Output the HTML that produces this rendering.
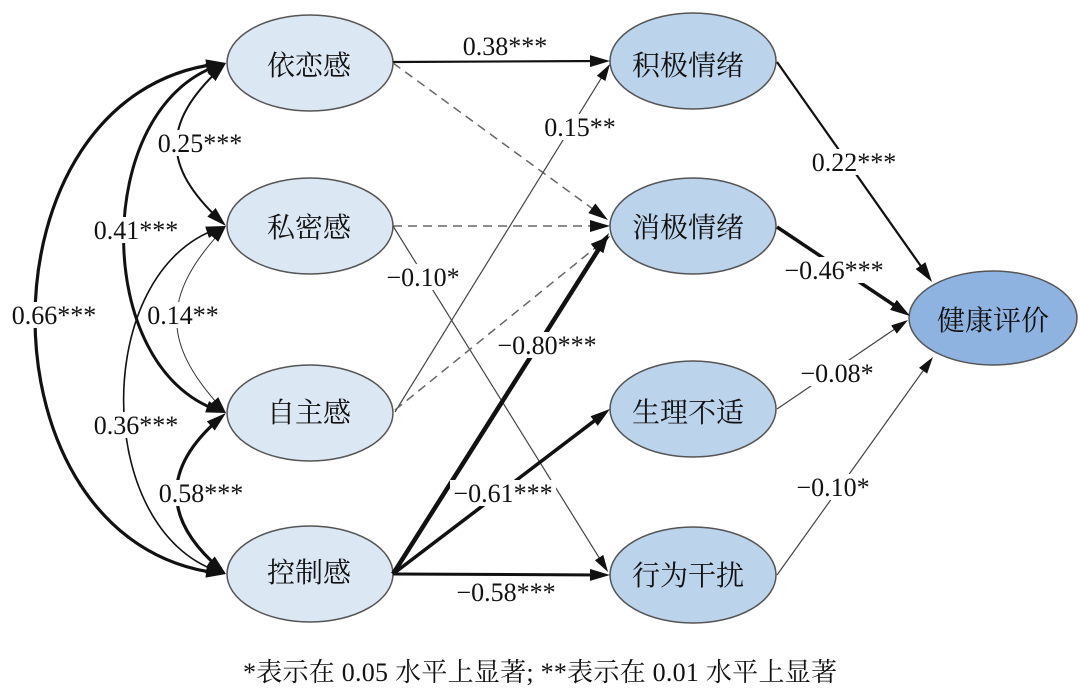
<!DOCTYPE html>
<html><head><meta charset="utf-8"><style>
html,body{margin:0;padding:0;background:#fff;}
svg{display:block;}
.lb{font-family:"Liberation Serif","Noto Serif CJK SC",serif;font-size:26px;fill:#111;text-anchor:middle;}
.nd{font-family:"Liberation Serif","Noto Serif CJK SC",serif;font-size:28px;fill:#111;text-anchor:middle;}
</style></head><body>
<svg width="1080" height="690" viewBox="0 0 1080 690" xmlns="http://www.w3.org/2000/svg">
<defs>
<marker id="ab" viewBox="0 0 20 12" refX="12" refY="6" markerWidth="20" markerHeight="12" markerUnits="userSpaceOnUse" orient="auto-start-reverse"><path d="M0,0 L20,6 L0,12 z" fill="#111"/></marker>
<marker id="as" viewBox="0 0 17 10" refX="9" refY="5" markerWidth="17" markerHeight="10" markerUnits="userSpaceOnUse" orient="auto-start-reverse"><path d="M0,0 L17,5 L0,10 z" fill="#111"/></marker>
</defs>
<rect width="1080" height="690" fill="#fff"/>

<!-- nodes -->
<g stroke="#555" stroke-width="1.5">
<ellipse cx="310" cy="63" rx="83" ry="48" fill="#dce7f4"/>
<ellipse cx="310" cy="226" rx="83" ry="48" fill="#dce7f4"/>
<ellipse cx="310" cy="413" rx="83" ry="48" fill="#dce7f4"/>
<ellipse cx="310" cy="574" rx="83" ry="48" fill="#dce7f4"/>
<ellipse cx="693" cy="61" rx="83" ry="48" fill="#bcd3ec"/>
<ellipse cx="693" cy="226" rx="83" ry="48" fill="#bcd3ec"/>
<ellipse cx="693" cy="409" rx="83" ry="48" fill="#bcd3ec"/>
<ellipse cx="693" cy="575" rx="83" ry="48" fill="#bcd3ec"/>
<ellipse cx="993" cy="318" rx="84" ry="47" fill="#8fb3e0"/>
</g>

<!-- left covariance curves -->
<g fill="none" stroke="#111">
<path d="M218.1,63.9 C-26,93 -26,544 218.1,573.1" stroke-width="3.2" marker-start="url(#ab)" marker-end="url(#ab)"/>
<path d="M218.4,65.5 C92,108 92,368 218.4,410.5" stroke-width="3" marker-start="url(#ab)" marker-end="url(#ab)"/>
<path d="M220.2,68.5 C162,123 162,166 220.2,220.5" stroke-width="2" marker-start="url(#ab)" marker-end="url(#ab)"/>
<path d="M220.6,231.9 C162,296 162,343 220.6,407.1" stroke-width="1" stroke="#333" marker-start="url(#as)" marker-end="url(#as)"/>
<path d="M218.4,228.5 C92,271 92,529 218.4,571.5" stroke-width="1.6" marker-start="url(#ab)" marker-end="url(#ab)"/>
<path d="M219.9,418.2 C162,468 162,519 219.9,568.8" stroke-width="3.2" marker-start="url(#ab)" marker-end="url(#ab)"/>
</g>

<!-- paths left to middle -->
<g fill="none">
<line x1="393" y1="62" x2="602" y2="61" stroke="#111" stroke-width="2.2" marker-end="url(#ab)"/>
<line x1="393" y1="63" x2="601.5" y2="215.3" stroke="#666" stroke-width="1.5" stroke-dasharray="9 6" marker-end="url(#ab)"/>
<line x1="393" y1="226" x2="602" y2="226" stroke="#666" stroke-width="1.5" stroke-dasharray="9 6" marker-end="url(#ab)"/>
<line x1="393" y1="226" x2="603.8" y2="565.2" stroke="#444" stroke-width="1.2" marker-end="url(#as)"/>
<line x1="395" y1="412" x2="605.8" y2="70.8" stroke="#444" stroke-width="1.2" marker-end="url(#as)"/>
<line x1="395" y1="410" x2="603.8" y2="241" stroke="#666" stroke-width="1.5" stroke-dasharray="9 6" marker-end="url(#ab)"/>
<line x1="393" y1="574" x2="604.7" y2="239.8" stroke="#111" stroke-width="4.5" marker-end="url(#ab)"/>
<line x1="393" y1="574" x2="603.6" y2="413.8" stroke="#111" stroke-width="3.5" marker-end="url(#ab)"/>
<line x1="393" y1="574" x2="602" y2="575" stroke="#111" stroke-width="3" marker-end="url(#ab)"/>
<!-- to health -->
<line x1="777" y1="62" x2="927.4" y2="275.4" stroke="#111" stroke-width="2.2" marker-end="url(#ab)"/>
<line x1="777" y1="227" x2="903.4" y2="311.5" stroke="#111" stroke-width="3.5" marker-end="url(#ab)"/>
<line x1="777" y1="409" x2="901.4" y2="324.5" stroke="#444" stroke-width="1.2" marker-end="url(#as)"/>
<line x1="777" y1="575" x2="928.3" y2="363.5" stroke="#444" stroke-width="1.2" marker-end="url(#as)"/>
</g>

<!-- label backgrounds -->
<g fill="#fff">
<rect x="156" y="130" width="88" height="26"/>
<rect x="92" y="217" width="88" height="26"/>
<rect x="10" y="302" width="88" height="26"/>
<rect x="146" y="302" width="74" height="26"/>
<rect x="92" y="412" width="88" height="26"/>
<rect x="157" y="480" width="88" height="26"/>
<rect x="543" y="114" width="74" height="26"/>
<rect x="384" y="264" width="78" height="26"/>
<rect x="494" y="332" width="106" height="26"/>
<rect x="450" y="480" width="106" height="26"/>
<rect x="810" y="149" width="88" height="26"/>
<rect x="781" y="257" width="106" height="26"/>
<rect x="797" y="360" width="80" height="26"/>
<rect x="793" y="474" width="80" height="26"/>
</g>

<!-- edge labels -->
<g class="lb">
<text x="505" y="55">0.38***</text>
<text x="200" y="152">0.25***</text>
<text x="136" y="239">0.41***</text>
<text x="54" y="324">0.66***</text>
<text x="183" y="324">0.14**</text>
<text x="136" y="434">0.36***</text>
<text x="201" y="502">0.58***</text>
<text x="580" y="136">0.15**</text>
<text x="423" y="286">−0.10*</text>
<text x="547" y="354">−0.80***</text>
<text x="503" y="502">−0.61***</text>
<text x="506" y="601">−0.58***</text>
<text x="854" y="171">0.22***</text>
<text x="834" y="279">−0.46***</text>
<text x="837" y="382">−0.08*</text>
<text x="833" y="496">−0.10*</text>
</g>

<!-- node labels -->
<g class="nd">
<text x="309" y="75">依恋感</text>
<text x="309" y="237">私密感</text>
<text x="309" y="422">自主感</text>
<text x="309" y="582">控制感</text>
<text x="688" y="75">积极情绪</text>
<text x="688" y="237">消极情绪</text>
<text x="688" y="422">生理不适</text>
<text x="688" y="585">行为干扰</text>
<text x="993" y="330">健康评价</text>
</g>

<text x="540" y="681" font-family="Liberation Serif, Noto Serif CJK SC, serif" font-size="26" fill="#111" text-anchor="middle" textLength="594" lengthAdjust="spacing">*表示在 0.05 水平上显著; **表示在 0.01 水平上显著</text>
</svg>
</body></html>
